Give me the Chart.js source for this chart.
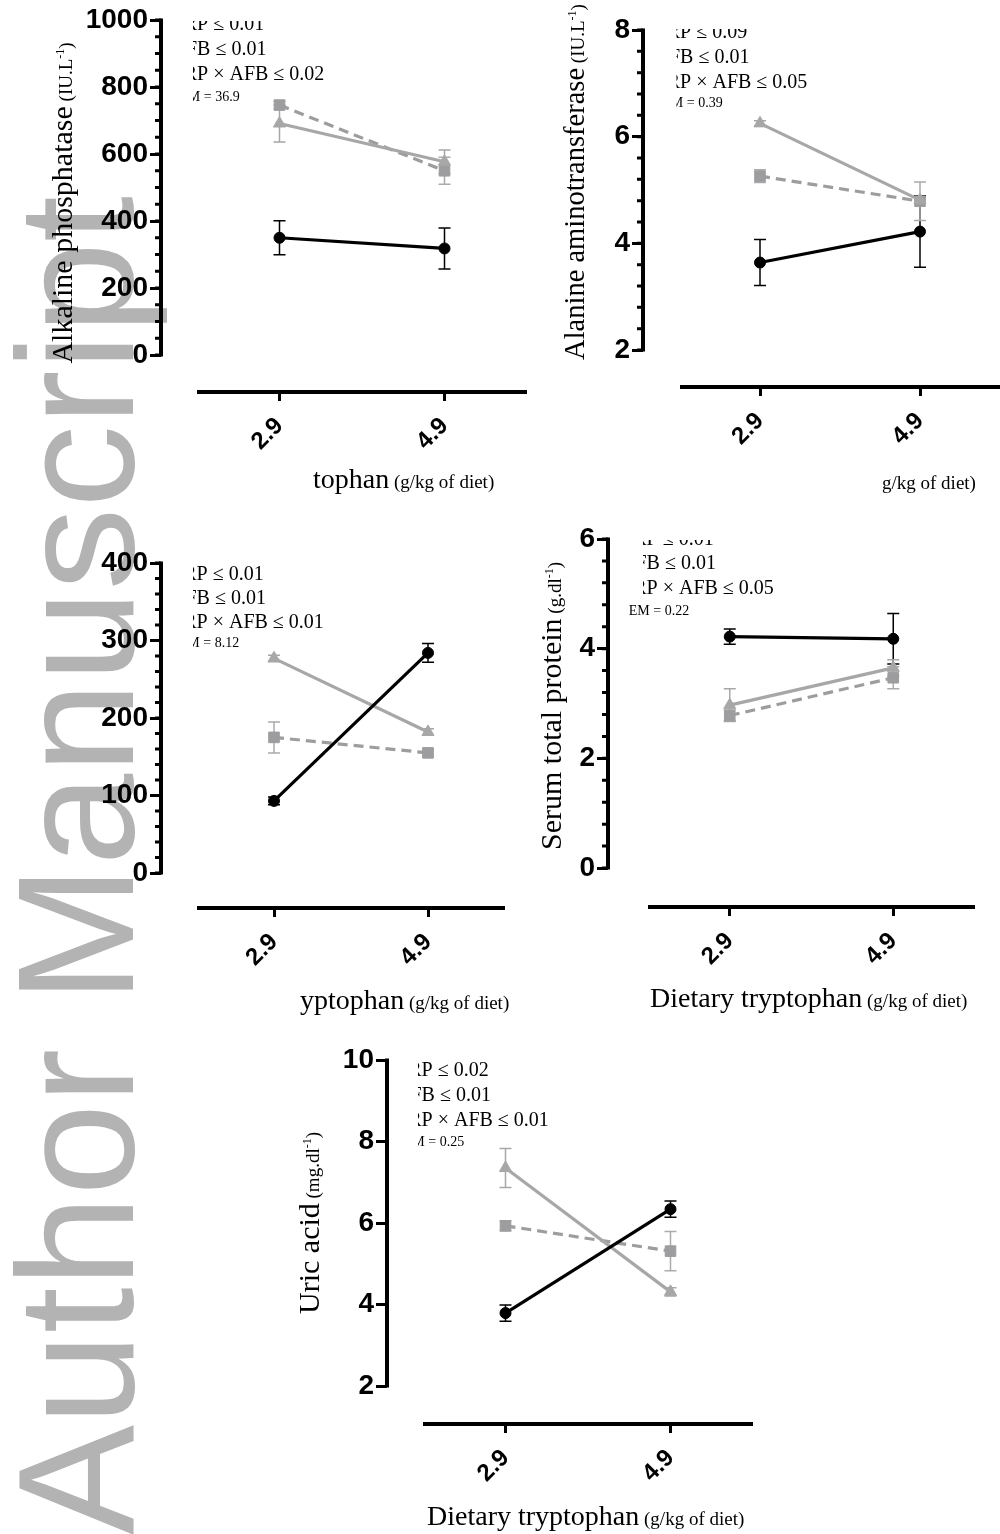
<!DOCTYPE html>
<html>
<head>
<meta charset="utf-8">
<script src="https://cdn.jsdelivr.net/npm/chart.js@4.4.1/dist/chart.umd.min.js"></script>
<style>
  html, body { margin: 0; padding: 0; background: #fff; }
  #page { position: relative; width: 1000px; height: 1534px; overflow: hidden; background: #fff; }
  #page canvas { position: absolute; left: 0; top: 0; }
  #mark { mix-blend-mode: multiply; }
</style>
</head>
<body>
<div id="page">
  <canvas id="c1" width="1000" height="1534"></canvas>
  <canvas id="c2" width="1000" height="1534"></canvas>
  <canvas id="c3" width="1000" height="1534"></canvas>
  <canvas id="c4" width="1000" height="1534"></canvas>
  <canvas id="c5" width="1000" height="1534"></canvas>
  <canvas id="mark" width="1000" height="1534"></canvas>
</div>
<script>
// dietary tryptophan levels (g/kg of diet)
const doses = [2.9, 4.9];
const doseLabels = ['2.9', '4.9'];

// Alkaline phosphatase (IU/L)
const alpCircle = [350, 318];
const alpCircleErr = [51, 61];
const alpTriangle = [691, 577];
const alpTriangleErr = [55, 35];
const alpSquare = [746, 550];
const alpSquareErr = [12, 40];
const alpTicks = [0, 200, 400, 600, 800, 1000];
const alpTickLabels = ['0', '200', '400', '600', '800', '1000'];
const alpStats = ['TRP ≤ 0.01', 'AFB ≤ 0.01', 'TRP × AFB ≤ 0.02', 'SEM = 36.9'];

// Alanine aminotransferase (IU/L)
const altCircle = [3.64, 4.22];
const altCircleErr = [0.43, 0.67];
const altTriangle = [6.25, 4.81];
const altTriangleErr = [0.05, 0.05];
const altSquare = [5.26, 4.79];
const altSquareErr = [0.12, 0.36];
const altTicks = [2, 4, 6, 8];
const altTickLabels = ['2', '4', '6', '8'];
const altStats = ['TRP ≤ 0.09', 'AFB ≤ 0.01', 'TRP × AFB ≤ 0.05', 'SEM = 0.39'];

// third panel (y title cut off)
const p3Circle = [93, 284];
const p3CircleErr = [5, 12];
const p3Triangle = [277, 182];
const p3TriangleErr = [4, 4];
const p3Square = [175, 155];
const p3SquareErr = [20, 4];
const p3Ticks = [0, 100, 200, 300, 400];
const p3TickLabels = ['0', '100', '200', '300', '400'];
const p3Stats = ['TRP ≤ 0.01', 'AFB ≤ 0.01', 'TRP × AFB ≤ 0.01', 'SEM = 8.12'];

// Serum total protein (g/dl)
const tpCircle = [4.22, 4.18];
const tpCircleErr = [0.14, 0.46];
const tpTriangle = [2.97, 3.65];
const tpTriangleErr = [0.3, 0.15];
const tpSquare = [2.78, 3.47];
const tpSquareErr = [0.1, 0.2];
const tpTicks = [0, 2, 4, 6];
const tpTickLabels = ['0', '2', '4', '6'];
const tpStats = ['TRP ≤ 0.01', 'AFB ≤ 0.01', 'TRP × AFB ≤ 0.05', 'SEM = 0.22'];

// Uric acid (mg/dl)
const uaCircle = [3.79, 6.34];
const uaCircleErr = [0.2, 0.2];
const uaTriangle = [7.35, 4.31];
const uaTriangleErr = [0.48, 0.1];
const uaSquare = [5.93, 5.31];
const uaSquareErr = [0.12, 0.48];
const uaTicks = [2, 4, 6, 8, 10];
const uaTickLabels = ['2', '4', '6', '8', '10'];
const uaStats = ['TRP ≤ 0.02', 'AFB ≤ 0.01', 'TRP × AFB ≤ 0.01', 'SEM = 0.25'];

const serif = "'Liberation Serif', 'Times New Roman', serif";
const sans = "'Liberation Sans', Arial, sans-serif";
const xSpan = [1.9, 5.9]; // value range covered by the detached x axis line

const styles = {
  circle: { color: '#000000', err: '#000000', pointStyle: 'circle', radius: 5.5, dash: [] },
  triangle: { color: '#a7a7a7', err: '#a7a7a7', pointStyle: 'triangle', radius: 7, dash: [] },
  square: { color: '#9d9d9f', err: '#ababab', pointStyle: 'rect', radius: 7.5, dash: [10, 6] }
};

function unitTitle(main, unit, size) {
  return [
    { t: main, size: size },
    { t: ' (' + unit, size: 19 },
    { t: '-1', size: 12, rise: 8 },
    { t: ')', size: 19 }
  ];
}
const xTitleParts = [{ t: 'Dietary tryptophan', size: 28 }, { t: ' (g/kg of diet)', size: 19 }];

const panels = [
  {
    canvas: 'c1', axisX: 161, yTopPx: 20, yLoPx: 355, xAxisY: 392, xStart: 197, xEnd: 527,
    ticks: alpTicks, tickLabels: alpTickLabels, minorStep: 50,
    series: [['circle', alpCircle, alpCircleErr], ['triangle', alpTriangle, alpTriangleErr], ['square', alpSquare, alpSquareErr]],
    yTitle: { parts: unitTitle('Alkaline phosphatase', 'IU.L', 30), x: 72, cy: 203 },
    xTitle: { hide: 12, x: 313, y: 488 },
    stats: { lines: alpStats, x0: 171.5, clipX: 193, clipY: 21, ys: [30, 55, 80, 101] }
  },
  {
    canvas: 'c2', axisX: 643, yTopPx: 30, yLoPx: 350, xAxisY: 387, xStart: 680, xEnd: 1000,
    ticks: altTicks, tickLabels: altTickLabels, minorStep: 0.4,
    series: [['circle', altCircle, altCircleErr], ['triangle', altTriangle, altTriangleErr], ['square', altSquare, altSquareErr]],
    yTitle: { parts: unitTitle('Alanine aminotransferase', 'IU.L', 28.5), x: 584, cy: 182 },
    xTitle: { hide: 20, x: 882, y: 489 },
    stats: { lines: altStats, x0: 654.5, clipX: 676.5, clipY: 29, ys: [38, 63, 88, 107] }
  },
  {
    canvas: 'c3', axisX: 161, yTopPx: 563, yLoPx: 873, xAxisY: 908, xStart: 197, xEnd: 505,
    ticks: p3Ticks, tickLabels: p3TickLabels, minorStep: 20,
    series: [['circle', p3Circle, p3CircleErr], ['triangle', p3Triangle, p3TriangleErr], ['square', p3Square, p3SquareErr]],
    yTitle: null,
    xTitle: { hide: 10, x: 300, y: 1009 },
    stats: { lines: p3Stats, x0: 171, clipX: 193, clipY: 0, ys: [580, 604, 628, 647] }
  },
  {
    canvas: 'c4', axisX: 608, yTopPx: 539, yLoPx: 868, xAxisY: 907, xStart: 648, xEnd: 975,
    ticks: tpTicks, tickLabels: tpTickLabels, minorStep: 0.4,
    series: [['circle', tpCircle, tpCircleErr], ['triangle', tpTriangle, tpTriangleErr], ['square', tpSquare, tpSquareErr]],
    yTitle: { parts: unitTitle('Serum total protein', 'g.dl', 30), x: 561, cy: 706 },
    xTitle: { hide: 0, x: 650, y: 1007 },
    stats: { lines: tpStats, x0: 621, clipX: 643, clipY: 540, ys: [545, 569, 594, 615], lastClipX: 629 }
  },
  {
    canvas: 'c5', axisX: 387, yTopPx: 1060, yLoPx: 1386, xAxisY: 1424, xStart: 423, xEnd: 753,
    ticks: uaTicks, tickLabels: uaTickLabels, minorStep: 0,
    series: [['circle', uaCircle, uaCircleErr], ['triangle', uaTriangle, uaTriangleErr], ['square', uaSquare, uaSquareErr]],
    yTitle: { parts: unitTitle('Uric acid', 'mg.dl', 30), x: 319, cy: 1223 },
    xTitle: { hide: 0, x: 427, y: 1525 },
    stats: { lines: uaStats, x0: 396, clipX: 418, clipY: 0, ys: [1076, 1101, 1126, 1146] }
  }
];

function drawParts(ctx, parts, x, y, center) {
  let total = 0;
  const widths = parts.map(pt => {
    ctx.font = pt.size + 'px ' + serif;
    const w = ctx.measureText(pt.t).width;
    total += w;
    return w;
  });
  let cx = center ? x - total / 2 : x;
  parts.forEach((pt, i) => {
    ctx.font = pt.size + 'px ' + serif;
    ctx.fillText(pt.t, cx, y - (pt.rise || 0));
    cx += widths[i];
  });
}

// width of the first n characters of a multi-size title
function prefixWidth(ctx, parts, n) {
  let w = 0;
  for (const pt of parts) {
    if (n <= 0) break;
    const k = Math.min(n, pt.t.length);
    ctx.font = pt.size + 'px ' + serif;
    w += ctx.measureText(pt.t.slice(0, k)).width;
    n -= k;
  }
  return w;
}

function prismPlugin(p) {
  return {
    id: 'prism',
    afterLayout(chart) {
      // let tick labels spill outside the zero-size scale boxes
      chart.scales.y.left = 0;
      chart.scales.x.bottom = chart.height;
    },
    beforeDatasetsDraw(chart) {
      const ctx = chart.ctx;
      const xs = chart.scales.x, ys = chart.scales.y;
      const area = chart.chartArea;
      const lo = p.ticks[0], hi = p.ticks[p.ticks.length - 1];

      ctx.save();
      ctx.strokeStyle = '#000';
      ctx.lineWidth = 4;
      ctx.beginPath();
      ctx.moveTo(area.left, ys.getPixelForValue(lo) + 1.5);
      ctx.lineTo(area.left, ys.getPixelForValue(hi) - 1.5);
      ctx.moveTo(xs.getPixelForValue(xSpan[0]), area.bottom);
      ctx.lineTo(xs.getPixelForValue(xSpan[1]), area.bottom);
      ctx.stroke();

      if (p.minorStep) {
        ctx.lineWidth = 3;
        ctx.beginPath();
        const n = Math.round((hi - lo) / p.minorStep);
        for (let k = 0; k <= n; k++) {
          const py = ys.getPixelForValue(lo + k * p.minorStep);
          ctx.moveTo(area.left - 6, py);
          ctx.lineTo(area.left, py);
        }
        ctx.stroke();
      }

      // error bars (SEM)
      ctx.lineWidth = 1.5;
      chart.data.datasets.forEach((ds, i) => {
        const meta = chart.getDatasetMeta(i);
        ctx.strokeStyle = ds.errColor;
        ctx.beginPath();
        meta.data.forEach((pt, j) => {
          const v = ds.data[j].y, e = ds.errors[j];
          const y1 = ys.getPixelForValue(v - e), y2 = ys.getPixelForValue(v + e);
          ctx.moveTo(pt.x, y1); ctx.lineTo(pt.x, y2);
          ctx.moveTo(pt.x - 6, y1); ctx.lineTo(pt.x + 6, y1);
          ctx.moveTo(pt.x - 6, y2); ctx.lineTo(pt.x + 6, y2);
        });
        ctx.stroke();
      });
      ctx.restore();
    },
    afterDraw(chart) {
      const ctx = chart.ctx;
      ctx.save();
      ctx.fillStyle = '#000';
      ctx.textBaseline = 'alphabetic';
      ctx.textAlign = 'left';

      if (p.yTitle) {
        ctx.save();
        ctx.translate(p.yTitle.x, p.yTitle.cy);
        ctx.rotate(-Math.PI / 2);
        drawParts(ctx, p.yTitle.parts, 0, 0, true);
        ctx.restore();
      }

      const xt = p.xTitle;
      const pre = prefixWidth(ctx, xTitleParts, xt.hide);
      ctx.save();
      if (xt.hide) {
        ctx.beginPath();
        ctx.rect(xt.x, 0, 1000, 1534);
        ctx.clip();
      }
      drawParts(ctx, xTitleParts, xt.x - pre, xt.y, false);
      ctx.restore();

      const s = p.stats;
      s.lines.forEach((line, i) => {
        const last = i === s.lines.length - 1;
        ctx.save();
        ctx.beginPath();
        ctx.rect(last && s.lastClipX ? s.lastClipX : s.clipX, s.clipY, 1000, 1534);
        ctx.clip();
        ctx.font = (last ? 14 : 20) + 'px ' + serif;
        ctx.fillText(line, s.x0, s.ys[i]);
        ctx.restore();
      });
      ctx.restore();
    }
  };
}

function makeChart(p) {
  const lo = p.ticks[0], hi = p.ticks[p.ticks.length - 1];

  const datasets = p.series.map(([kind, vals, errs]) => {
    const st = styles[kind];
    return {
      data: doses.map((x, i) => ({ x: x, y: vals[i] })),
      errors: errs,
      errColor: st.err,
      borderColor: st.color,
      backgroundColor: st.color,
      borderWidth: 3.2,
      borderDash: st.dash,
      tension: 0,
      pointStyle: st.pointStyle,
      pointRadius: st.radius,
      pointBorderWidth: 1,
      pointBorderColor: st.color,
      pointBackgroundColor: st.color
    };
  });

  const chart = new Chart(document.getElementById(p.canvas), {
    type: 'line',
    data: { datasets },
    options: {
      responsive: false,
      animation: false,
      devicePixelRatio: 1,
      layout: { padding: { left: p.axisX, top: p.yTopPx, right: 1000 - p.xEnd, bottom: 1534 - p.xAxisY } },
      plugins: { legend: { display: false }, tooltip: { enabled: false } },
      scales: {
        x: {
          type: 'linear',
          min: 1,
          max: 6,
          afterBuildTicks: s => { s.ticks = doses.map(v => ({ value: v })); },
          afterFit: s => { s.height = 0; s.paddingLeft = 0; s.paddingRight = 0; },
          border: { display: false },
          grid: { drawOnChartArea: false, drawTicks: true, tickLength: 9, tickWidth: 3, tickColor: '#000' },
          ticks: {
            autoSkip: false, minRotation: 45, maxRotation: 45, padding: 11, color: '#000',
            font: { family: sans, size: 24, weight: 'bold' },
            callback: (v, i) => doseLabels[i]
          }
        },
        y: {
          type: 'linear',
          min: lo - 1,
          max: hi,
          afterBuildTicks: s => { s.ticks = p.ticks.map(v => ({ value: v })); },
          afterFit: s => { s.width = 0; s.paddingTop = 0; s.paddingBottom = 0; },
          border: { display: false },
          grid: { drawOnChartArea: false, drawTicks: true, tickLength: 11, tickWidth: 3, tickColor: '#000' },
          ticks: {
            autoSkip: false, padding: 2, color: '#000',
            font: { family: sans, size: 28, weight: 'bold' },
            callback: (v, i) => p.tickLabels[i]
          }
        }
      }
    },
    plugins: [prismPlugin(p)]
  });

  // second pass: fit the scale ranges to the laid-out plot area
  const a = chart.chartArea;
  const kx = (p.xEnd - p.xStart) / (xSpan[1] - xSpan[0]);
  chart.options.scales.x.min = xSpan[0] - (p.xStart - a.left) / kx;
  chart.options.scales.x.max = xSpan[1] + (a.right - p.xEnd) / kx;
  const ky = (p.yLoPx - p.yTopPx) / (hi - lo);
  chart.options.scales.y.min = lo - (a.bottom - p.yLoPx) / ky;
  chart.options.scales.y.max = hi + (p.yTopPx - a.top) / ky;
  chart.update();
}

panels.forEach(makeChart);

// "Author Manuscript" watermark, multiplied over the figure
const mctx = document.getElementById('mark').getContext('2d');
mctx.fillStyle = '#b3b3b3';
mctx.font = '165px ' + sans;
mctx.textBaseline = 'alphabetic';
mctx.translate(133, 1535);
mctx.rotate(-Math.PI / 2);
mctx.fillText('Author Manuscript', 0, 0);
</script>
</body>
</html>
